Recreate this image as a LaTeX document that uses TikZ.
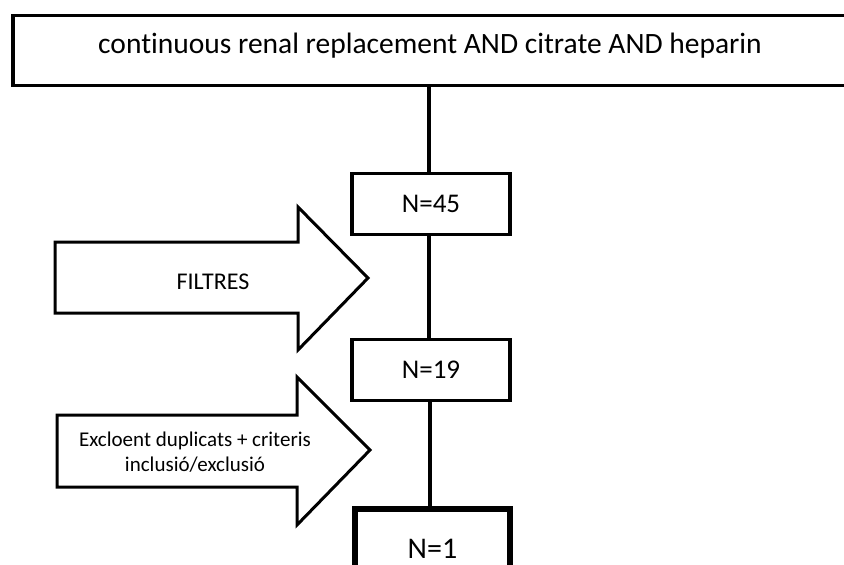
\documentclass[tikz,border=0pt]{standalone}
\usepackage{fontspec}
\setmainfont[Ligatures={NoCommon}]{Carlito}
\begin{document}
\begin{tikzpicture}[x=1pt,y=-1pt,
  box/.style={draw=black,line width=3.2pt,fill=white,inner sep=0pt,minimum width=158pt,minimum height=61pt,font=\fontsize{27}{30}\selectfont},
  bigarrow/.style={draw=black,line width=3pt,fill=white,line join=miter},
  link/.style={draw=black,line width=3.2pt}]
\useasboundingbox (0,0) rectangle (844,565);
\node[draw=black,line width=3.8pt,fill=white,minimum width=843pt,minimum height=70pt,inner sep=0pt,anchor=north west] (top) at (11,13.5) {};
\node[font=\fontsize{29.5}{33}\selectfont,anchor=base] (toptext) at (430,53) {continuous renal replacement AND citrate AND heparin};
\node[box] (n45) at (431,204) {N=45};
\node[box] (n19) at (431,370) {N=19};
\node[box,line width=5.5pt,minimum width=155pt,minimum height=80pt,font=\fontsize{30}{34}\selectfont] (n1) at (432.5,549) {N=1};
\draw[link] (top.south -| 429,0) -- (n45.north -| 429,0);
\draw[link] (n45.south -| 429,0) -- (n19.north -| 429,0);
\draw[link] (n19.south -| 430,0) -- (n1.north -| 430,0);
\draw[bigarrow] (55,242) -- (298,242) -- (298,207) -- (368,278) -- (298,350) -- (298,313) -- (55,313) -- cycle;
\node[font=\fontsize{24}{28}\selectfont] (f1) at (213,282) {FILTRES};
\draw[bigarrow] (57,415) -- (297,415) -- (297,377) -- (370,450) -- (297,525) -- (297,487) -- (57,487) -- cycle;
\node[font=\fontsize{21}{25}\selectfont,anchor=base] (f2a) at (195,446) {Excloent duplicats + criteris};
\node[font=\fontsize{21}{25}\selectfont,anchor=base] (f2b) at (195,471) {inclusió/exclusió};
\end{tikzpicture}
\end{document}
